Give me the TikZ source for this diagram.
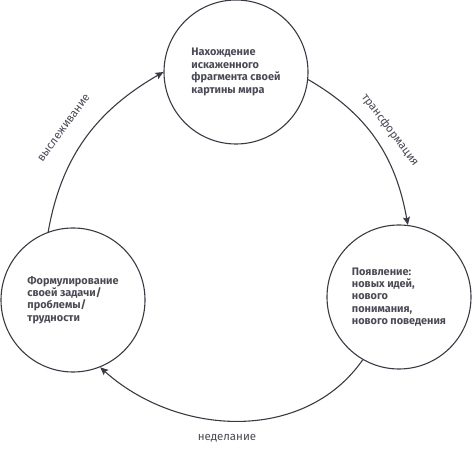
\documentclass[tikz,border=0pt]{standalone}
\usepackage{fontspec}
\setmainfont{Fira Sans}
\usetikzlibrary{arrows.meta}
\definecolor{ink}{HTML}{3A3A44}
\definecolor{txt}{HTML}{4A4A55}
\begin{document}
\begin{tikzpicture}[x=1pt, y=1pt,
  stage/.style={circle, draw=ink, line width=1.1pt, minimum size=144pt, inner sep=0pt,
    align=left, text=txt, font=\fontsize{10.9}{12.4}\selectfont\bfseries},
  flow/.style={draw=ink, line width=1.1pt, -{Stealth[length=8pt, width=7pt, inset=1.5pt]}},
  flowlabel/.style={text=txt, font=\fontsize{11.5}{13}\selectfont}]
  \useasboundingbox (0,0) rectangle (474,452);
  \draw
    (236,380) node[stage] (find){Нахождение\\искаженного\\фрагмента своей\\картины мира}
    (399,155) node[stage] (emerge){Появление:\\новых идей,\\нового\\понимания,\\нового поведения}
    (73,152) node[stage] (formulate){Формулирование\\своей задачи/\\проблемы/\\трудности};
  \begin{scope}[flow]
    \draw (formulate.110) to[out=80, in=210] (find.west);
    \draw (find.-6) to[out=-30, in=100] (emerge.83);
    \draw (emerge.240) to[out=235, in=-42, looseness=1.0] (formulate.292);
  \end{scope}
  \node[flowlabel, rotate=54] (track) at (64,324) {выслеживание};
  \node[flowlabel, rotate=-53] (transform) at (390,322) {трансформация};
  \node[flowlabel] (nondoing) at (227,14) {неделание};
\end{tikzpicture}
\end{document}
